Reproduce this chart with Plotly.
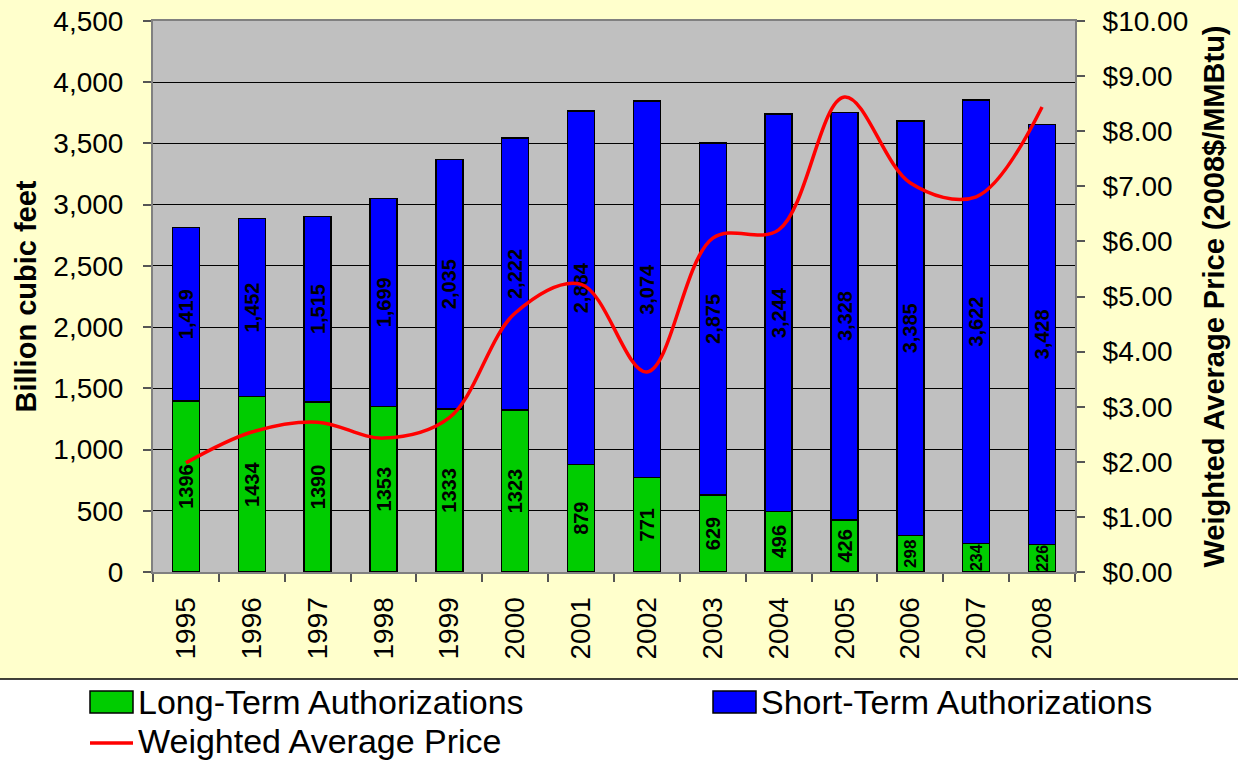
import plotly.graph_objects as go

# Natural gas import authorizations and weighted average price, 1995-2008
years = ["1995", "1996", "1997", "1998", "1999", "2000", "2001",
         "2002", "2003", "2004", "2005", "2006", "2007", "2008"]
long_term = [1396, 1434, 1390, 1353, 1333, 1323, 879,
             771, 629, 496, 426, 298, 234, 226]
short_term = [1419, 1452, 1515, 1699, 2035, 2222, 2884,
              3074, 2875, 3244, 3328, 3385, 3622, 3428]
avg_price = [1.98, 2.54, 2.72, 2.43, 2.80, 4.70, 5.22,
             3.63, 6.06, 6.21, 8.62, 7.06, 6.81, 8.44]

W, H = 1238, 761
L, R, T, B = 153, 1075, 21, 572          # plot area in pixels
PW, PH = R - L, B - T

FONT = "Liberation Sans, Arial, sans-serif"
BG_YELLOW = "#FFFFCC"
PLOT_GRAY = "#C0C0C0"
GREEN = "#00CC00"
BLUE = "#0000FF"
RED = "#FF0000"


def px(x):
    return (x - L) / PW


def py(y):
    return (B - y) / PH


# short green segments get a smaller label so it stays inside the bar
def label_size(v):
    if v < 260:
        return 16
    if v < 400:
        return 17
    return 20


long_sizes = [label_size(v) for v in long_term]

fig = go.Figure()

fig.add_trace(go.Bar(
    x=years, y=long_term, name="Long-Term Authorizations",
    marker=dict(color=GREEN, line=dict(color="black", width=1.5)),
    text=[f"{v}" for v in long_term], textposition="inside",
    insidetextanchor="middle", textangle=-90,
    textfont=dict(family=FONT, size=long_sizes, color="black", weight="bold"),
    constraintext="none", showlegend=False, hoverinfo="skip",
))

fig.add_trace(go.Bar(
    x=years, y=short_term, name="Short-Term Authorizations",
    marker=dict(color=BLUE, line=dict(color="black", width=1.5)),
    text=[f"{v:,}" for v in short_term], textposition="inside",
    insidetextanchor="middle", textangle=-90,
    textfont=dict(family=FONT, size=20, color="black", weight="bold"),
    constraintext="none", showlegend=False, hoverinfo="skip",
))

fig.add_trace(go.Scatter(
    x=years, y=avg_price, name="Weighted Average Price", yaxis="y2",
    mode="lines", line=dict(color=RED, width=3.5, shape="spline", smoothing=1.0),
    showlegend=False, hoverinfo="skip",
))

# white band under the chart area holding the legend
shapes = [
    dict(type="rect", xref="paper", yref="paper",
         x0=px(-10), x1=px(W + 10), y0=py(H + 10), y1=py(679),
         fillcolor="white", line=dict(width=0), layer="below"),
    dict(type="line", xref="paper", yref="paper",
         x0=px(-10), x1=px(W + 10), y0=py(679), y1=py(679),
         line=dict(color="black", width=1.5)),
    # legend swatches
    dict(type="rect", xref="paper", yref="paper",
         x0=px(90), x1=px(133), y0=py(713), y1=py(691),
         fillcolor=GREEN, line=dict(color="black", width=1.5)),
    dict(type="rect", xref="paper", yref="paper",
         x0=px(713), x1=px(756), y0=py(713), y1=py(691),
         fillcolor=BLUE, line=dict(color="black", width=1.5)),
    dict(type="line", xref="paper", yref="paper",
         x0=px(90), x1=px(133), y0=py(743), y1=py(743),
         line=dict(color=RED, width=3.5)),
]

legend_font = dict(family=FONT, size=34, color="black")
legend_items = [
    ("Long-Term Authorizations", 137, 702),
    ("Short-Term Authorizations", 760, 702),
    ("Weighted Average Price", 137, 741),
]
annotations = [
    dict(text=txt, x=px(x0), y=py(yc), xref="paper", yref="paper",
         xanchor="left", yanchor="middle", height=38, valign="middle",
         borderpad=0, showarrow=False, font=legend_font)
    for txt, x0, yc in legend_items
]

tick_font = dict(family=FONT, size=28, color="black")
title_font = dict(family=FONT, size=29, color="black", weight="bold")

fig.update_layout(
    width=W, height=H,
    margin=dict(l=L, r=W - R, t=T, b=H - B, autoexpand=False),
    paper_bgcolor=BG_YELLOW, plot_bgcolor=PLOT_GRAY,
    barmode="stack", bargap=0.59,
    font=dict(family=FONT, color="black"),
    shapes=shapes, annotations=annotations,
    xaxis=dict(
        type="category", tickangle=-90, tickfont=tick_font,
        ticks="outside", ticklen=8, tickcolor="#555555", tickwidth=1.5,
        tickson="boundaries", showgrid=False, ticklabelstandoff=12,
        showline=True, linecolor="#808080", linewidth=2, mirror=True,
    ),
    yaxis=dict(
        range=[0, 4500], dtick=500, tickformat=",", tickfont=tick_font,
        ticks="outside", ticklen=8, tickcolor="#555555", tickwidth=1.5,
        showgrid=True, gridcolor="#000000", gridwidth=1, zeroline=False,
        showline=True, linecolor="#808080", linewidth=2,
        ticklabelstandoff=14,
        title=dict(text="Billion cubic feet", font=title_font, standoff=8),
    ),
    yaxis2=dict(
        range=[0, 10], dtick=1, tickprefix="$", tickformat=".2f",
        tickfont=tick_font, overlaying="y", side="right",
        ticks="outside", ticklen=8, tickcolor="#555555", tickwidth=1.5,
        showgrid=False, zeroline=False,
        showline=True, linecolor="#808080", linewidth=2,
        ticklabelstandoff=12,
        title=dict(text="Weighted Average Price (2008$/MMBtu)", font=title_font, standoff=16),
    ),
)

fig.write_html("out.html")
